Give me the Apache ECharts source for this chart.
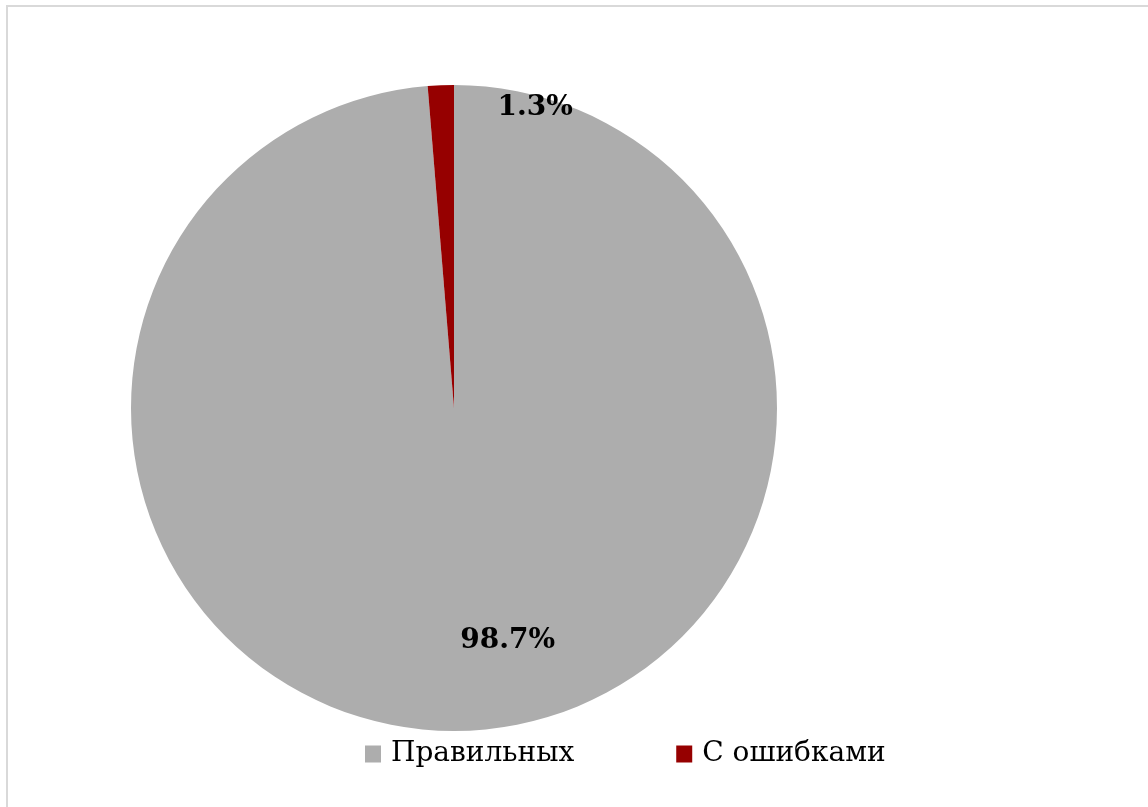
<!DOCTYPE html>
<html>
<head>
<meta charset="utf-8">
<script src="https://cdn.jsdelivr.net/npm/echarts@6/dist/echarts.min.js"></script>
<style>
html,body{margin:0;padding:0;background:#fff;}
#chart{width:1148px;height:807px;}
</style>
</head>
<body>
<div id="chart"></div>
<script>
const categories = ['Правильных', 'С ошибками'];
const values = [98.7, 1.3];
const colors = ['#ADADAD', '#960000'];
const labelShift = [[47, 68], [88, -136]];

const chart = echarts.init(document.getElementById('chart'));
chart.setOption({
  animation: false,
  backgroundColor: '#fff',
  graphic: [{
    type: 'rect',
    shape: {x: 7, y: 6, width: 1300, height: 1000},
    style: {fill: 'none', stroke: '#D9D9D9', lineWidth: 2},
    silent: true
  }],
  legend: {
    data: categories,
    left: 365,
    top: 740,
    padding: 0,
    itemWidth: 16,
    itemHeight: 17,
    itemGap: 102,
    icon: 'rect',
    textStyle: {
      fontFamily: 'DejaVu Serif',
      fontSize: 28,
      color: '#000',
      padding: [0, 0, 0, 5]
    }
  },
  series: [{
    type: 'pie',
    center: [454, 408],
    radius: 323,
    startAngle: 90,
    clockwise: true,
    data: categories.map((c, i) => ({name: c, value: values[i], itemStyle: {color: colors[i]}})),
    label: {
      show: true,
      position: 'inside',
      formatter: p => p.value.toFixed(1) + '%',
      fontFamily: 'DejaVu Serif',
      fontWeight: 'bold',
      fontSize: 28,
      color: '#000'
    },
    labelLayout: p => ({dx: labelShift[p.dataIndex][0], dy: labelShift[p.dataIndex][1]}),
    labelLine: {show: false},
    itemStyle: {borderWidth: 0}
  }]
});
</script>
</body>
</html>
